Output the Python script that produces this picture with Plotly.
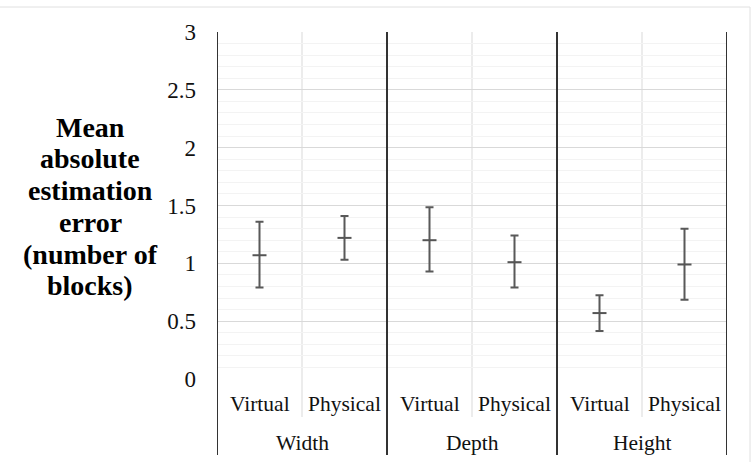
import plotly.graph_objects as go

groups = ["Width", "Depth", "Height"]
conditions = ["Virtual", "Physical"]
means = [1.07, 1.22, 1.20, 1.01, 0.57, 0.99]
upper = [1.36, 1.41, 1.485, 1.24, 0.725, 1.30]
lower = [0.79, 1.03, 0.93, 0.79, 0.415, 0.685]
y_ticks = [0, 0.5, 1, 1.5, 2, 2.5, 3]
y_title_lines = ["Mean", "absolute", "estimation", "error", "(number of", "blocks)"]

xs = list(range(len(means)))
err_plus = [u - m for u, m in zip(upper, means)]
err_minus = [m - l for m, l in zip(means, lower)]

SERIF = "Liberation Serif"
PLOT_TOP, PLOT_BOTTOM, PLOT_LEFT, PLOT_W = 32, 379, 217, 510


def py(pix):
    return (PLOT_BOTTOM - pix) / (PLOT_BOTTOM - PLOT_TOP)


fig = go.Figure()
fig.add_trace(go.Scatter(
    x=xs, y=means, mode="markers",
    marker=dict(symbol="line-ew", size=10, line=dict(color="#555555", width=2)),
    error_y=dict(type="data", symmetric=False, array=err_plus, arrayminus=err_minus,
                 color="#595959", thickness=2, width=4),
    showlegend=False, hoverinfo="skip",
))

shapes = []
for g in range(len(groups)):
    xc = 2 * g + 0.5
    shapes.append(dict(type="line", xref="x", yref="paper", x0=xc, x1=xc, y0=py(417), y1=1,
                       line=dict(color="#d9d9d9", width=1), layer="below"))
for b in range(len(groups) + 1):
    xb = 2 * b - 0.5
    shapes.append(dict(type="line", xref="x", yref="paper", x0=xb, x1=xb, y0=py(455), y1=1,
                       line=dict(color="#333333", width=2), layer="above"))
shapes.append(dict(type="line", xref="paper", yref="paper", x0=(0 - PLOT_LEFT) / PLOT_W,
                   x1=(750 - PLOT_LEFT) / PLOT_W, y0=py(7), y1=py(7),
                   line=dict(color="#e0e0e0", width=1)))
shapes.append(dict(type="line", xref="paper", yref="paper", x0=(750 - PLOT_LEFT) / PLOT_W,
                   x1=(750 - PLOT_LEFT) / PLOT_W, y0=py(470), y1=py(7),
                   line=dict(color="#e0e0e0", width=1)))

annotations = []
for i in xs:
    annotations.append(dict(x=i, y=py(404), xref="x", yref="paper", text=conditions[i % 2],
                            showarrow=False, font=dict(family=SERIF, size=21.5, color="#111111"),
                            xanchor="center", yanchor="middle"))
for g, name in enumerate(groups):
    annotations.append(dict(x=2 * g + 0.5, y=py(443), xref="x", yref="paper", text=name,
                            showarrow=False, font=dict(family=SERIF, size=21.5, color="#111111"),
                            xanchor="center", yanchor="middle"))
title_centers = [127, 158, 190, 222, 254, 285]
for line, c in zip(y_title_lines, title_centers):
    annotations.append(dict(x=(90 - PLOT_LEFT) / PLOT_W, y=py(c), xref="paper", yref="paper",
                            text="<b>" + line + "</b>", showarrow=False,
                            font=dict(family=SERIF, size=28, color="#000000"),
                            xanchor="center", yanchor="middle"))

fig.update_layout(
    width=755, height=462,
    margin=dict(l=PLOT_LEFT, r=755 - PLOT_LEFT - PLOT_W, t=PLOT_TOP, b=462 - PLOT_BOTTOM),
    paper_bgcolor="white", plot_bgcolor="white",
    font=dict(family=SERIF),
    xaxis=dict(range=[-0.5, 5.5], showticklabels=False, showgrid=False, zeroline=False,
               ticks="", fixedrange=True),
    yaxis=dict(range=[0, 3], tickvals=y_ticks, ticktext=[str(t) for t in y_ticks],
               showgrid=True, gridcolor="#d9d9d9", gridwidth=1, zeroline=False,
               tickfont=dict(family=SERIF, size=23, color="#111111"), ticks="",
               ticklabelstandoff=20,
               minor=dict(dtick=0.1, showgrid=True, gridcolor="#f3f3f3", gridwidth=1),
               fixedrange=True),
    shapes=shapes,
    annotations=annotations,
)

fig.write_html("out.html")
